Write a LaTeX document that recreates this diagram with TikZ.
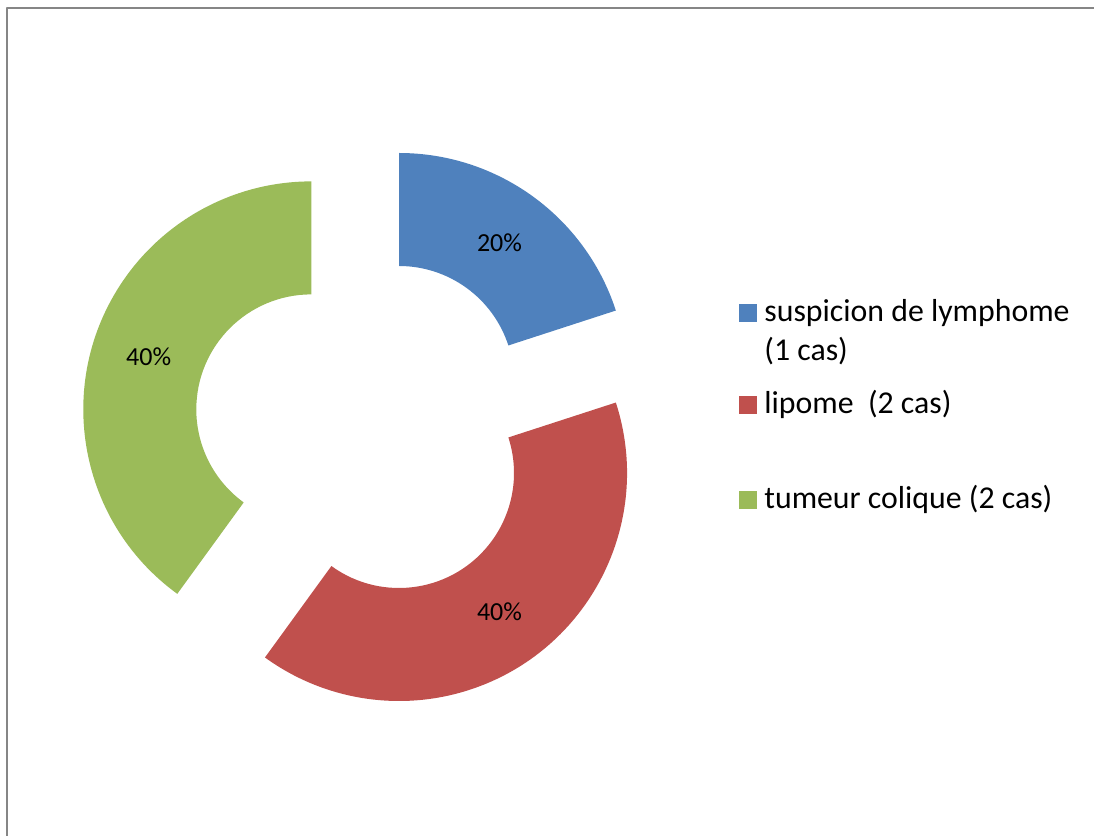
\documentclass[tikz,border=0pt]{standalone}
\usepackage{fontspec}
\setmainfont{Carlito}
\definecolor{sliceblue}{HTML}{4F81BD}
\definecolor{slicered}{HTML}{C0504D}
\definecolor{slicegreen}{HTML}{9BBB59}
\definecolor{framegray}{HTML}{868686}
\begin{document}
\begin{tikzpicture}[x=0.5pt, y=0.5pt, line join=round,
    pct/.style={font=\fontsize{13}{15.6}\selectfont, inner sep=0pt},
    legtext/.style={font=\fontsize{15.9}{19.5}\selectfont, inner sep=0pt, anchor=base west},
    legbox/.style={minimum size=9pt, inner sep=0pt, anchor=south west}]
  \useasboundingbox (0,0) rectangle (1094,836);
  \clip (0,0) rectangle (1094,836);
  \def\Rout{228}\def\Rin{115}
  % chart frame (right and bottom edges fall outside)
  \draw[line width=1pt, color=framegray] (7,-10) -- (7,827.5) -- (1104,827.5);
  % exploded donut: center / start / end / colour / label
  \foreach \cx/\cy/\aa/\ab/\col/\txt/\nm in {
      399/455/90/18/sliceblue/20\%/lblA,
      399/363/18/-126/slicered/40\%/lblB,
      311.3/426.6/-126/-270/slicegreen/40\%/lblC}{
    \pgfmathsetmacro\amid{(\aa+\ab)/2}
    \fill[\col, shift={(\cx,\cy)}] (\aa:\Rout) arc[start angle=\aa, end angle=\ab, radius=\Rout]
      -- (\ab:\Rin) arc[start angle=\ab, end angle=\aa, radius=\Rin] -- cycle;
    \node[pct] (\nm) at ([shift={(\cx,\cy)}]\amid:171) {\txt};
  }
  % legend
  \node[legbox, fill=sliceblue] (keyA) at (739,514) {};
  \node[legtext] (textA) at (764,514) {suspicion de lymphome};
  \node[legtext] (textA2) at (764,475) {(1 cas)};
  \node[legbox, fill=slicered] (keyB) at (739,422) {};
  \node[legtext] (textB) at (764,422) {lipome\ \ (2 cas)};
  \node[legbox, fill=slicegreen] (keyC) at (739,327) {};
  \node[legtext] (textC) at (764,327) {tumeur colique (2 cas)};
\end{tikzpicture}
\end{document}
